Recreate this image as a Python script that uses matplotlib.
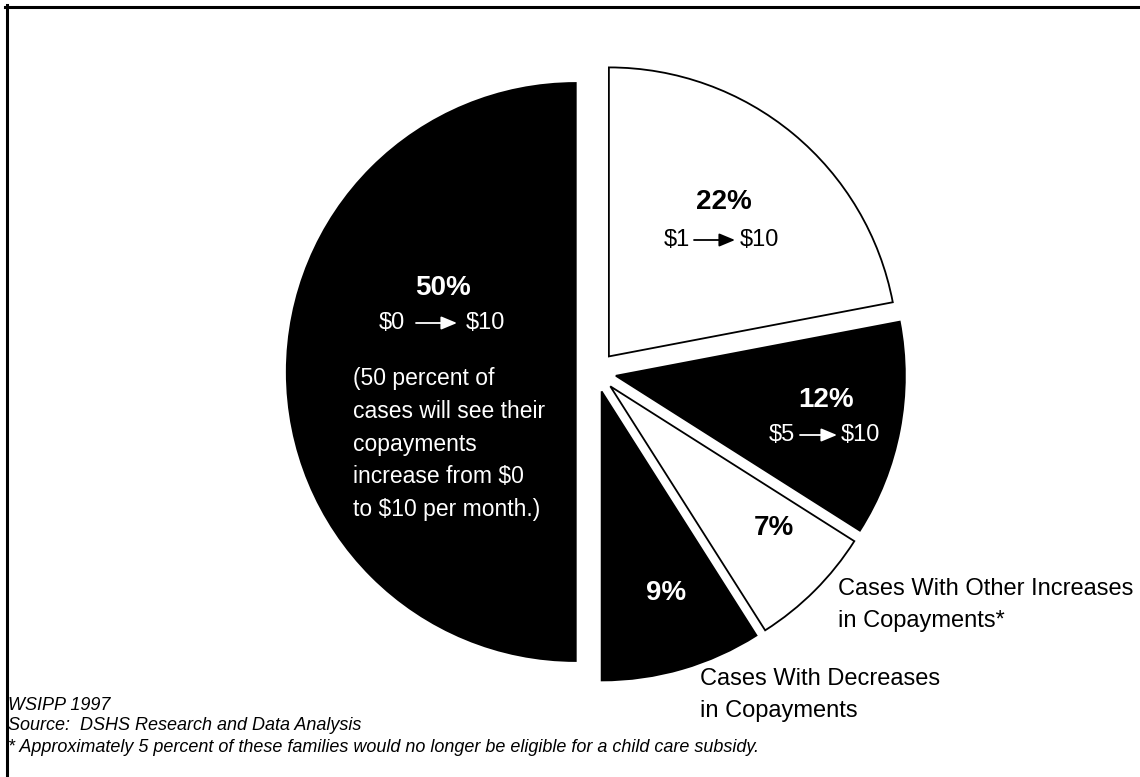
import matplotlib.pyplot as plt
from matplotlib.lines import Line2D

plt.rcParams["font.family"] = ["Liberation Sans", "DejaVu Sans"]

# slices, clockwise from 12 o'clock
SHARES = [22, 12, 7, 9, 50]
COLORS = ["white", "black", "white", "black", "black"]
PCT_LABELS = ["22%", "12%", "7%", "9%", "50%"]
PCT_COLORS = ["black", "white", "black", "white", "white"]

NOTE_50 = "(50 percent of\ncases will see their\ncopayments\nincrease from $0\nto $10 per month.)"
OTHER_LABEL = "Cases With Other Increases\nin Copayments*"
DECREASE_LABEL = "Cases With Decreases\nin Copayments"
FOOTER = [
    "WSIPP 1997",
    "Source:  DSHS Research and Data Analysis",
    "* Approximately 5 percent of these families would no longer be eligible for a child care subsidy.",
]

W, H = 1140, 777
CX, CY, R = 596, 372, 289  # pie centre / radius in pixels
HALF = 340
BIG = 20
REG = 17


def px(x, y=CY):
    return (x - CX) / R, (CY - y) / R


def arrow_text(ax, xl, x0, x1, xr, ypx, left, right, color):
    # xl: right edge of left text, x0/x1: arrow, xr: left edge of right text (pixels)
    y = px(0, ypx)[1]
    ax.annotate("", xy=(px(x1)[0], y), xytext=(px(x0)[0], y),
                arrowprops=dict(arrowstyle="-|>,head_length=0.6,head_width=0.25",
                                color=color, lw=1.3, shrinkA=0, shrinkB=0,
                                mutation_scale=16))
    ax.text(px(xl)[0], y, left, ha="right", va="center", color=color, fontsize=REG)
    ax.text(px(xr)[0], y, right, ha="left", va="center", color=color, fontsize=REG)


def main():
    fig = plt.figure(figsize=(W / 100, H / 100), dpi=100)
    ax = fig.add_axes([(CX - HALF) / W, (H - CY - HALF) / H, 2 * HALF / W, 2 * HALF / H])

    ax.pie(SHARES, colors=COLORS, startangle=90, counterclock=False,
           explode=[0.07] * len(SHARES), radius=1.0,
           wedgeprops=dict(edgecolor="black", linewidth=1.3))
    ax.set_xlim(-HALF / R, HALF / R)
    ax.set_ylim(-HALF / R, HALF / R)
    ax.axis("off")

    pct_pos = [px(724, 202), px(826, 400), px(774, 528), px(666, 593), px(443, 288)]
    for lab, col, (x, y) in zip(PCT_LABELS, PCT_COLORS, pct_pos):
        ax.text(x, y, lab, ha="center", va="center", fontsize=BIG,
                fontweight="bold", color=col)

    arrow_text(ax, 690, 694, 735, 740, 240, "$1", "$10", "black")
    arrow_text(ax, 405, 416, 457, 466, 323, "$0", "$10", "white")
    arrow_text(ax, 795, 800, 837, 841, 435, "$5", "$10", "white")

    x, y = px(353, 444)
    ax.text(x, y, NOTE_50, ha="left", va="center", color="white",
            fontsize=16.5, linespacing=1.55)

    x, y = px(838, 605)
    ax.text(x, y, OTHER_LABEL, ha="left", va="center", fontsize=REG, linespacing=1.6)
    x, y = px(700, 695)
    ax.text(x, y, DECREASE_LABEL, ha="left", va="center", fontsize=REG, linespacing=1.6)

    for line, ypx in zip(FOOTER, [705, 726, 747]):
        fig.text(8 / W, 1 - ypx / H, line, ha="left", va="center",
                 fontsize=13, fontstyle="italic")

    # frame (only top and left edges are inside the picture)
    fig.add_artist(Line2D([5 / W, 1], [1 - 6.5 / H] * 2, color="black", lw=2.2,
                          transform=fig.transFigure))
    fig.add_artist(Line2D([6.5 / W] * 2, [0, 1 - 5 / H], color="black", lw=2.2,
                          transform=fig.transFigure))

    fig.savefig("out.png", dpi=100, facecolor="white")


if __name__ == "__main__":
    main()
